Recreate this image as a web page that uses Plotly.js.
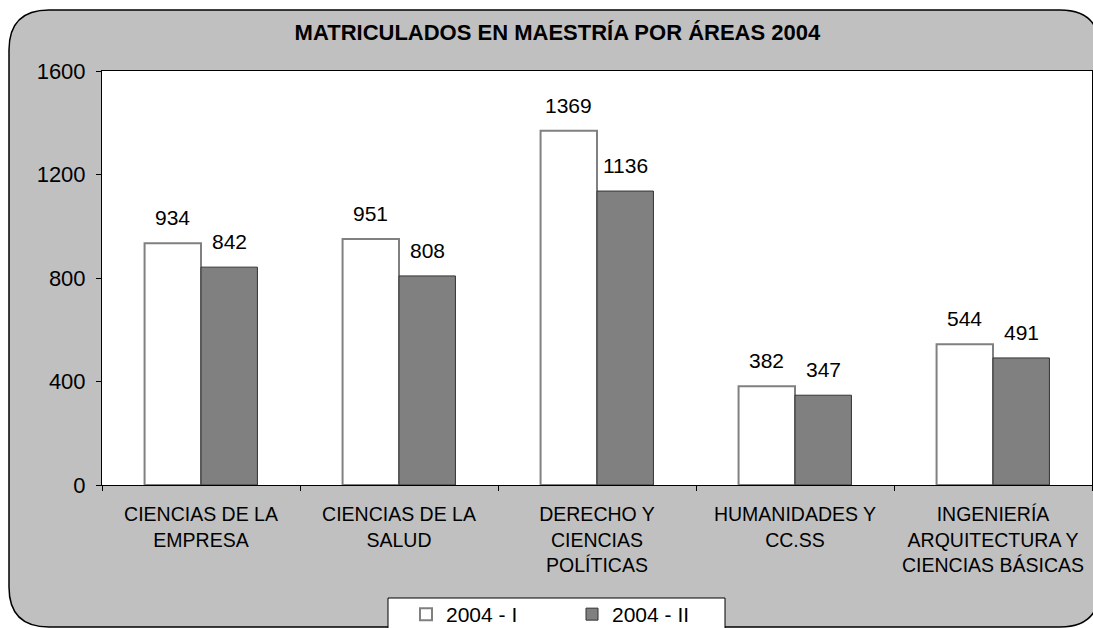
<!DOCTYPE html>
<html>
<head>
<meta charset="utf-8">
<script src="https://cdn.plot.ly/plotly-3.0.1.min.js"></script>
<style>html,body{margin:0;padding:0;background:#fff;}#chart{width:1093px;height:628px;}</style>
</head>
<body>
<div id="chart"></div>
<script>
const categories = [
  "CIENCIAS DE LA<br>EMPRESA",
  "CIENCIAS DE LA<br>SALUD",
  "DERECHO Y<br>CIENCIAS<br>POLÍTICAS",
  "HUMANIDADES Y<br>CC.SS",
  "INGENIERÍA<br>ARQUITECTURA Y<br>CIENCIAS BÁSICAS"
];
const series1Name = "2004 - I";
const series1 = [934, 951, 1369, 382, 544];
const series2Name = "2004 - II";
const series2 = [842, 808, 1136, 347, 491];
const yTicks = [0, 400, 800, 1200, 1600];

const W = 1093, H = 628;
const M = {l: 102, r: 1, t: 71, b: 143};
const pw = W - M.l - M.r, ph = H - M.t - M.b;
const px = x => (x - M.l) / pw;
const py = y => (H - M.b - y) / ph;

function roundRect(x0, y0, x1, y1, r) {
  const p = (x, y) => px(x) + ',' + py(y);
  return 'M' + p(x0 + r, y0) + ' L' + p(x1 - r, y0) + ' Q' + p(x1, y0) + ' ' + p(x1, y0 + r) +
    ' L' + p(x1, y1 - r) + ' Q' + p(x1, y1) + ' ' + p(x1 - r, y1) +
    ' L' + p(x0 + r, y1) + ' Q' + p(x0, y1) + ' ' + p(x0, y1 - r) +
    ' L' + p(x0, y0 + r) + ' Q' + p(x0, y0) + ' ' + p(x0 + r, y0) + ' Z';
}

const font = 'Liberation Sans, Arial, sans-serif';
const bargap = 0.43;
const barPx = pw / categories.length * (1 - bargap) / 2;

const traces = [
  {
    type: 'bar', name: series1Name, x: categories, y: series1,
    marker: {color: '#FFFFFF', line: {color: '#808080', width: 2}}
  },
  {
    type: 'bar', name: series2Name, x: categories, y: series2,
    marker: {color: '#808080', line: {color: '#333333', width: 1}}
  }
];

const labelAnn = (vals, shift) => vals.map((v, i) => ({
  x: categories[i], y: v, xref: 'x', yref: 'y', text: String(v),
  showarrow: false, xanchor: 'center', yanchor: 'bottom',
  xshift: shift, yshift: 12,
  font: {family: font, size: 21, color: '#000'}
}));

const layout = {
  width: W, height: H,
  margin: M,
  paper_bgcolor: '#FFFFFF',
  plot_bgcolor: 'rgba(0,0,0,0)',
  font: {family: font, size: 20, color: '#000'},
  title: {
    text: '<b>MATRICULADOS EN MAESTRÍA POR ÁREAS 2004</b>',
    font: {family: font, size: 22, color: '#000'},
    x: 0.51, xanchor: 'center', y: 1 - 32 / H, yanchor: 'middle'
  },
  barmode: 'group', bargap: bargap, bargroupgap: 0,
  showlegend: true,
  legend: {
    orientation: 'h', xref: 'container', yref: 'container',
    x: 406 / W, xanchor: 'left', y: 1 - 594 / H, yanchor: 'top',
    bgcolor: 'rgba(0,0,0,0)', borderwidth: 0,
    font: {family: font, size: 21, color: '#000'},
    entrywidth: 121, traceorder: 'normal'
  },
  xaxis: {
    type: 'category', showgrid: false, zeroline: false,
    showline: true, linecolor: '#000', linewidth: 1, mirror: true,
    ticks: 'outside', tickson: 'boundaries', ticklen: 5, tickcolor: '#000',
    tickfont: {family: font, size: 19.5, color: '#000'},
    ticklabelstandoff: 12,
    automargin: false
  },
  yaxis: {
    range: [0, 1600], tickvals: yTicks, ticktext: yTicks.map(String),
    showgrid: false, zeroline: false,
    showline: true, linecolor: '#000', linewidth: 1, mirror: true,
    ticks: 'outside', ticklen: 5, tickcolor: '#000',
    tickfont: {family: font, size: 22, color: '#000'},
    ticklabelstandoff: 6,
    automargin: false
  },
  annotations: labelAnn(series1, -barPx / 2).concat(labelAnn(series2, barPx / 2)),
  shapes: [
    {type: 'path', xref: 'paper', yref: 'paper', layer: 'below',
     path: roundRect(9, 10, 1100, 627, 40),
     fillcolor: '#C0C0C0', line: {color: '#000', width: 1.5}},
    {type: 'rect', xref: 'paper', yref: 'paper', layer: 'below',
     x0: 0, x1: 1, y0: 0, y1: 1, fillcolor: '#FFFFFF', line: {width: 0}},
    {type: 'rect', xref: 'paper', yref: 'paper', layer: 'below',
     x0: px(388), x1: px(725), y0: py(598), y1: py(632),
     fillcolor: '#FFFFFF', line: {color: '#000', width: 1}}
  ]
};

Plotly.newPlot('chart', traces, layout, {displayModeBar: false, staticPlot: true});
</script>
</body>
</html>
